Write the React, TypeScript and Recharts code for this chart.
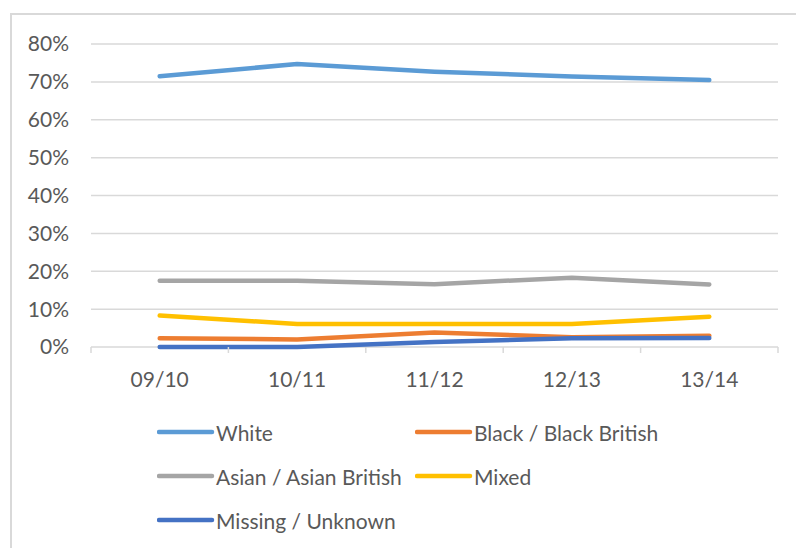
import { LineChart, Line, XAxis, YAxis, CartesianGrid, Legend } from 'recharts';

const categories = ['09/10', '10/11', '11/12', '12/13', '13/14'];
const white = [0.715, 0.747, 0.727, 0.714, 0.705];
const blackBritish = [0.023, 0.02, 0.038, 0.026, 0.03];
const asianBritish = [0.175, 0.175, 0.166, 0.183, 0.165];
const mixed = [0.083, 0.061, 0.061, 0.061, 0.08];
const missing = [0.0, 0.0, 0.013, 0.023, 0.024];
const yTicks = [0, 0.1, 0.2, 0.3, 0.4, 0.5, 0.6, 0.7, 0.8];

const series = [
  { key: 'white', name: 'White', color: '#5B9BD5' },
  { key: 'black', name: 'Black / Black British', color: '#ED7D31' },
  { key: 'asian', name: 'Asian / Asian British', color: '#A5A5A5' },
  { key: 'mixed', name: 'Mixed', color: '#FFC000' },
  { key: 'missing', name: 'Missing / Unknown', color: '#4472C4' },
];

const data = categories.map((c, i) => ({
  cat: c,
  white: white[i],
  black: blackBritish[i],
  asian: asianBritish[i],
  mixed: mixed[i],
  missing: missing[i],
}));

const FONT = 'Lato, "Open Sans", sans-serif';
const TEXT = '#595959';
const GRID = '#D9D9D9';
const HALF_BAND = 68.7;

// tick marks sit between categories, like Excel
function XTick(props: any) {
  const { x, y, payload, index } = props;
  const half = payload?.offset || HALF_BAND;
  return (
    <g>
      <line x1={x - half} x2={x - half} y1={y} y2={y + 6} stroke={GRID} strokeWidth={1.5} />
      {index === categories.length - 1 && (
        <line x1={x + half} x2={x + half} y1={y} y2={y + 6} stroke={GRID} strokeWidth={1.5} />
      )}
      <text x={x} y={y + 40} textAnchor="middle" fill={TEXT} fontSize={21} fontFamily={FONT}>
        {payload.value}
      </text>
    </g>
  );
}

function LegendBox() {
  return (
    <div
      style={{
        width: 796,
        height: 132,
        display: 'grid',
        gridTemplateColumns: '258px 258px',
        gridAutoRows: '44px',
        paddingLeft: 157,
        boxSizing: 'border-box',
        fontFamily: FONT,
        fontSize: 21,
        color: TEXT,
      }}
    >
      {series.map((s) => (
        <div key={s.key} style={{ display: 'flex', alignItems: 'center' }}>
          <svg width={59} height={10} style={{ flex: 'none' }}>
            <line x1={2} x2={55} y1={5} y2={5} stroke={s.color} strokeWidth={4.5} strokeLinecap="round" />
          </svg>
          <span style={{ whiteSpace: 'nowrap' }}>{s.name}</span>
        </div>
      ))}
    </div>
  );
}

export default function App() {
  return (
    <div style={{ position: 'absolute', left: 0, top: 0, width: 796, height: 548, background: '#fff', overflow: 'hidden' }}>
      <div
        style={{
          position: 'absolute',
          left: 10,
          top: 13,
          width: 800,
          height: 560,
          borderLeft: `2px solid ${GRID}`,
          borderTop: `2px solid ${GRID}`,
        }}
      />
      <div style={{ position: 'absolute', left: 0, top: 0 }}>
        <LineChart width={796} height={548} data={data} margin={{ top: 44, right: 18, bottom: 6, left: 0 }}>
          <CartesianGrid vertical={false} stroke={GRID} strokeWidth={1.5} />
          <XAxis
            dataKey="cat"
            height={63}
            padding={{ left: HALF_BAND, right: HALF_BAND }}
            tickLine={false}
            tickSize={0}
            tickMargin={0}
            axisLine={false}
            tick={<XTick />}
            interval={0}
          />
          <YAxis
            width={91}
            domain={[0, 0.8]}
            ticks={yTicks}
            axisLine={false}
            tickLine={false}
            tickSize={0}
            tickMargin={22}
            tickFormatter={(v: number) => `${Math.round(v * 100)}%`}
            tick={{ fill: TEXT, fontSize: 21, fontFamily: FONT }}
          />
          <Legend verticalAlign="bottom" content={<LegendBox />} wrapperStyle={{ left: 0, width: 796 }} />
          {series.map((s) => (
            <Line
              key={s.key}
              dataKey={s.key}
              name={s.name}
              stroke={s.color}
              strokeWidth={4.5}
              strokeLinecap="round"
              strokeLinejoin="round"
              dot={false}
              activeDot={false}
              isAnimationActive={false}
            />
          ))}
        </LineChart>
      </div>
    </div>
  );
}
